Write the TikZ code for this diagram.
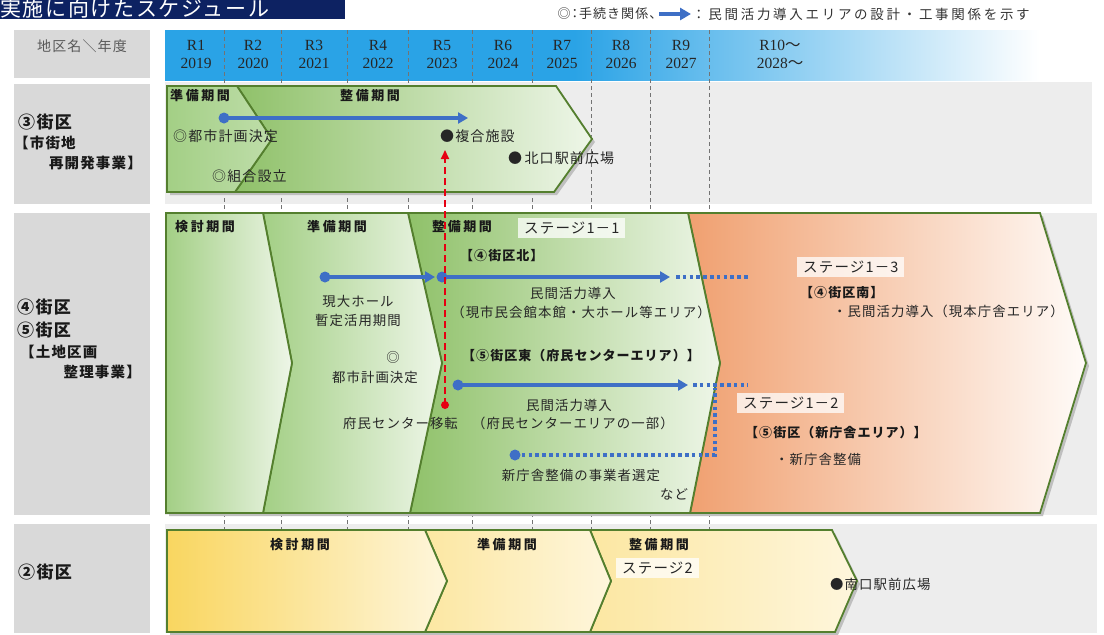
\documentclass[tikz,border=0pt]{standalone}
\usepackage{fontspec}
\setmainfont{Liberation Serif}
\newfontfamily\jp[LetterSpace=8]{Noto Sans CJK JP}
\newfontfamily\jpw[LetterSpace=20]{Noto Sans CJK JP}
\newfontfamily\jph[LetterSpace=8,CharacterWidth=AlternateHalf]{Noto Sans CJK JP}
\usetikzlibrary{arrows.meta}
\definecolor{navy}{HTML}{0D2262}
\definecolor{hb}{HTML}{2AA3E6}
\definecolor{lgray}{HTML}{D9D9D9}
\definecolor{bggray}{HTML}{EDEDED}
\definecolor{gline}{HTML}{547F2E}
\definecolor{blu}{HTML}{3E6FC6}
\definecolor{redd}{HTML}{E60012}
\definecolor{gA}{HTML}{A3CF85}
\definecolor{gB}{HTML}{8FC169}
\definecolor{gW}{HTML}{EEF6E8}
\definecolor{org}{HTML}{F0A070}
\definecolor{orgW}{HTML}{FFFBF8}
\definecolor{yA}{HTML}{F9D660}
\definecolor{yB}{HTML}{FCE7A2}
\definecolor{yW}{HTML}{FEF6DC}
\pgfdeclarehorizontalshading{hdr}{100bp}{color(0bp)=(hb); color(47bp)=(hb); color(72bp)=(white); color(100bp)=(white)}
\begin{document}
\begin{tikzpicture}[x=1pt,y=-1pt,
  jt/.style={font=\jp\fontsize{13.4}{15}\selectfont, inner sep=0pt, text=black!85},
  jt3/.style={font=\jp\fontsize{14}{15}\selectfont, inner sep=0pt, text=black!85},
  jb/.style={font=\jpw\bfseries\fontsize{13}{14}\selectfont, inner sep=0pt, text=black!90},
  jk/.style={font=\jp\bfseries\fontsize{13}{14}\selectfont, inner sep=0pt, text=black!90},
  lab/.style={font=\jp\bfseries\fontsize{17}{18}\selectfont, inner sep=0pt, text=black!90},
  labs/.style={font=\jp\bfseries\fontsize{14.5}{16}\selectfont, inner sep=0pt, text=black!90},
  yr/.style={font=\fontsize{15.5}{18}\selectfont, align=center, inner sep=0pt, text=black!85},
  stagebox/.style={font=\jp\fontsize{14.5}{15}\selectfont, text=black!85, fill=white, fill opacity=0.75, text opacity=1, inner xsep=6pt, inner ysep=4pt},
  shp/.style={draw=gline, line width=1.8pt, line join=miter},
  shd/.style={fill=black!25},
  dot/.style={circle, fill=blu, inner sep=0pt, minimum size=11pt},
  rdot/.style={circle, fill=redd, inner sep=0pt, minimum size=8pt},
  bar/.style={draw=blu, line width=3.6pt, -{Triangle[length=10pt,width=11pt]}},
  dotl/.style={draw=blu, line width=3.6pt, dash pattern=on 3.6pt off 3.2pt},
  reda/.style={draw=redd, line width=1.8pt, dash pattern=on 7pt off 4pt, -{Triangle[length=9pt,width=8pt]}},
  yline/.style={draw=black!55, line width=0.9pt, dash pattern=on 4pt off 3pt},
]
\useasboundingbox (0,0) rectangle (1104,635);
\fill[white] (0,0) rectangle (1104,635);
% title
\fill[navy] (0,0) rectangle (345,19);
\node[font=\jp\fontsize{21}{22}\selectfont, text=white, inner sep=0pt, anchor=base west] (title) at (0,16.5) {実施に向けたスケジュール};
% legend
\node[font=\jph\fontsize{13}{15}\selectfont, text=black!80, inner sep=0pt, anchor=east] (leg1) at (656,14) {◎：手続き関係、};
\node[font=\jpw\fontsize{13.5}{15}\selectfont, text=black!80, inner sep=0pt, anchor=west] (leg2) at (692,14) {：民間活力導入エリアの設計・工事関係を示す};
\draw[bar, line width=3.4pt, -{Triangle[length=11pt,width=12pt]}] ([xshift=3pt]leg1.east) -- ([xshift=-1pt]leg2.west);
% backgrounds
\fill[lgray] (14,30) rectangle (150,78);
\fill[lgray] (14,84) rectangle (150,204);
\fill[lgray] (14,213) rectangle (150,515);
\fill[lgray] (14,524) rectangle (150,633);
\shade[shading=hdr] (165,30) rectangle (1095,80);
\fill[bggray] (165,82) rectangle (1092,204);
\fill[bggray] (165,213) rectangle (1097,515);
\fill[bggray] (165,524) rectangle (1097,633);
\node[font=\jp\fontsize{14}{15}\selectfont, text=black!65, inner sep=0pt] (hd) at (82,46) {地区名＼年度};
% year lines
\foreach \xx in {224,281,347,408,472,532,591,650,709}{
  \draw[yline] (\xx,30) -- (\xx,634);
}
% year labels
\node[yr] (r1) at (196,54) {R1\\2019};
\node[yr] (r2) at (253,54) {R2\\2020};
\node[yr] (r3) at (314,54) {R3\\2021};
\node[yr] (r4) at (378,54) {R4\\2022};
\node[yr] (r5) at (442,54) {R5\\2023};
\node[yr] (r6) at (503,54) {R6\\2024};
\node[yr] (r7) at (562,54) {R7\\2025};
\node[yr] (r8) at (621,54) {R8\\2026};
\node[yr] (r9) at (681,54) {R9\\2027};
\node[yr] (r10) at (780,54) {R10{\jp 〜}\\2028{\jp 〜}};
% section labels
\node[lab, anchor=west] (l3a) at (18,122) {③街区};
\node[labs, anchor=west] (l3b) at (14,143) {【市街地};
\node[labs, anchor=east] (l3c) at (142,163) {再開発事業】};
\node[lab, anchor=west] (l4a) at (17,307) {④街区};
\node[lab, anchor=west] (l4b) at (17,330) {⑤街区};
\node[labs, anchor=west] (l4c) at (20,352) {【土地区画};
\node[labs, anchor=east] (l4d) at (141,372) {整理事業】};
\node[lab, anchor=west] (l2a) at (18,572) {②街区};
% ---------- section 3 shapes
\begin{scope}[shift={(3,3)}]
\fill[shd] (237,86) -- (556,86) -- (592,139) -- (554,192) -- (167,192) -- (167,86) -- cycle;
\end{scope}
\path[shp, left color=gB, right color=gW] (237,86) -- (556,86) -- (592,139) -- (554,192) -- (235,192) -- (272,139) -- cycle;
\path[shp, left color=gA, right color=gA!70!white] (167,86) -- (237,86) -- (272,139) -- (235,192) -- (167,192) -- cycle;
% ---------- section 4/5 shapes
\begin{scope}[shift={(3,3)}]
\fill[shd] (166,213) -- (1040,213) -- (1086,363) -- (1040,513) -- (166,513) -- cycle;
\end{scope}
\path[shp, left color=org, right color=orgW] (688,213) -- (1040,213) -- (1086,363) -- (1040,513) -- (690,513) -- (720,363) -- cycle;
\path[shp, left color=gB, right color=gW] (408,213) -- (688,213) -- (720,363) -- (690,513) -- (410,513) -- (442,363) -- cycle;
\path[shp, left color=gA, right color=gW] (263,213) -- (408,213) -- (442,363) -- (410,513) -- (263,513) -- (292,363) -- cycle;
\path[shp, left color=gA, right color=gW] (166,213) -- (263,213) -- (292,363) -- (263,513) -- (166,513) -- cycle;
% ---------- section 2 shapes
\begin{scope}[shift={(3,3)}]
\fill[shd] (167,530) -- (832,530) -- (857,581) -- (835,632) -- (167,632) -- cycle;
\end{scope}
\path[shp, left color=yB, right color=yW] (590,530) -- (832,530) -- (857,581) -- (835,632) -- (590,632) -- (611,581) -- cycle;
\path[shp, left color=yB, right color=yW] (425,530) -- (590,530) -- (611,581) -- (590,632) -- (425,632) -- (447,581) -- cycle;
\path[shp, left color=yA, right color=yW] (167,530) -- (425,530) -- (447,581) -- (425,632) -- (167,632) -- cycle;
% ---------- section 3 texts
\node[jb, anchor=west] (p3a) at (170,96) {準備期間};
\node[jb, anchor=west] (p3b) at (340,96) {整備期間};
\node[dot] (d3) at (224,118) {};
\coordinate (e3) at (468,118);
\draw[bar] (d3.center) -- (e3);
\node[jt3, anchor=west] (t3a) at (173,136) {◎都市計画決定};
\node[jt3, anchor=west] (t3b) at (440,136) {●複合施設};
\node[jt3, anchor=west] (t3c) at (508,158) {●\,北口駅前広場};
\node[jt3, anchor=west] (t3d) at (212,176) {◎組合設立};
% ---------- section 4/5 texts
\node[jb, anchor=west] (p4a) at (175,227) {検討期間};
\node[jb, anchor=west] (p4b) at (307,227) {準備期間};
\node[jb, anchor=west] (p4c) at (432,227) {整備期間};
\node[stagebox, anchor=west] (s11) at (518,228) {ステージ1－1};
\node[jk, anchor=west] (k4n) at (460,256) {【④街区北】};
\node[dot] (d1) at (325,277) {};
\coordinate (e1) at (435,277);
\draw[bar] (d1.center) -- (e1);
\node[dot] (d2) at (442,277) {};
\coordinate (e2) at (670,277);
\draw[bar] (d2.center) -- (e2);
\coordinate (f2a) at (676,277);
\coordinate (f2b) at (750,277);
\draw[dotl] (f2a) -- (f2b);
\node[jt] (t41) at (358,301) {現大ホール};
\node[jt] (t42) at (358,320) {暫定活用期間};
\node[jt] (t43) at (393,357) {◎};
\node[jt] (t44) at (375,377) {都市計画決定};
\node[jt] (t45) at (573,293) {民間活力導入};
\node[jt] (t46) at (581,312) {（現市民会館本館・大ホール等エリア）};
\node[jk, anchor=west] (k5e) at (462,356) {【⑤街区東（府民センターエリア）】};
\node[dot] (d4) at (458,385) {};
\coordinate (e4) at (688,385);
\draw[bar] (d4.center) -- (e4);
\coordinate (f4a) at (693,385);
\coordinate (f4b) at (748,385);
\draw[dotl] (f4a) -- (f4b);
\node[jt] (t47) at (569,405) {民間活力導入};
\node[jt] (t48) at (573,423) {（府民センターエリアの一部）};
\node[jt, anchor=west] (t49) at (343,423) {府民センター移転};
\node[rdot] (rd) at (445,405) {};
\coordinate (re) at (445,150);
\draw[reda] (rd.center) -- (re);
\node[dot] (d5) at (515,455) {};
\coordinate (f5a) at (715,455);
\coordinate (f5b) at (715,388);
\draw[dotl] (d5.center) -- (f5a) -- (f5b);
\node[jt] (t50) at (581,475) {新庁舎整備の事業者選定};
\node[jt, anchor=west] (t51) at (660,494) {など};
\node[stagebox, anchor=west] (s13) at (797,267) {ステージ1－3};
\node[jk, anchor=west] (k4s) at (800,293) {【④街区南】};
\node[jt, anchor=west] (t52) at (833,311) {・民間活力導入（現本庁舎エリア）};
\node[stagebox, anchor=west] (s12) at (737,403) {ステージ1－2};
\node[jk, anchor=west] (k5n) at (745,433) {【⑤街区（新庁舎エリア）】};
\node[jt, anchor=west] (t53) at (775,459) {・新庁舎整備};
% ---------- section 2 texts
\node[jb] (p2a) at (300,545) {検討期間};
\node[jb] (p2b) at (507,545) {準備期間};
\node[jb] (p2c) at (659,545) {整備期間};
\node[stagebox, anchor=west] (s2) at (616,568) {ステージ2};
\node[jt, anchor=west] (t2a) at (830,584) {●南口駅前広場};
\end{tikzpicture}
\end{document}
